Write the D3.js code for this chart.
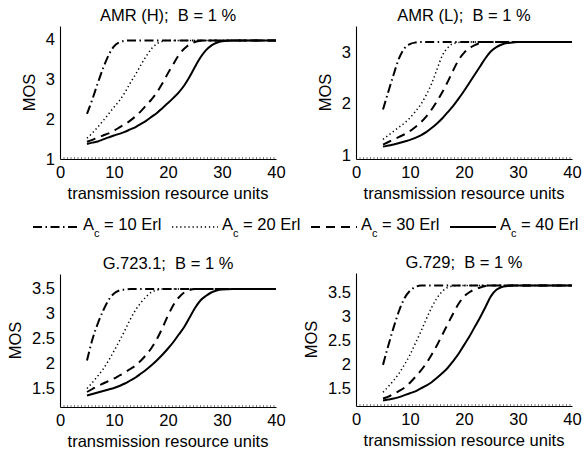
<!DOCTYPE html>
<html lang="en">
<head>
<meta charset="UTF-8">
<title>MOS vs transmission resource units</title>
<style>
  body { margin: 0; background: #fff; }
  text { font-family: "Liberation Sans", Arial, sans-serif; fill: #000; }
</style>
</head>
<body>
<svg width="584" height="452"></svg>
<script src="https://d3js.org/d3.v7.min.js"></script>
<script>
// resource units sampled along each curve
const xs = [5,6,7,8,9,10,11,12,13,14,15,16,17,18,19,20,21,22,23,24,25,26,27,28,29,30,32,40];
const erlangs = [10, 20, 30, 40];
const xTicks = [0, 10, 20, 30, 40];

// MOS per offered traffic (10, 20, 30, 40 Erl)
const amrH = [
  [2.13,2.50,2.90,3.28,3.60,3.82,3.92,3.96,3.97,3.97,3.97,3.97,3.97,3.97,3.97,3.97,3.97,3.97,3.97,3.97,3.97,3.97,3.97,3.97,3.97,3.97,3.97,3.97],
  [1.52,1.65,1.80,1.96,2.13,2.30,2.46,2.66,2.90,3.12,3.36,3.58,3.77,3.89,3.95,3.97,3.97,3.97,3.97,3.97,3.97,3.97,3.97,3.97,3.97,3.97,3.97,3.97],
  [1.43,1.48,1.54,1.59,1.64,1.71,1.79,1.87,1.96,2.07,2.20,2.35,2.50,2.68,2.90,3.15,3.38,3.60,3.76,3.87,3.93,3.96,3.97,3.97,3.97,3.97,3.97,3.97],
  [1.375,1.41,1.44,1.49,1.54,1.59,1.63,1.68,1.74,1.80,1.88,1.96,2.06,2.16,2.28,2.40,2.53,2.67,2.84,3.06,3.31,3.54,3.72,3.84,3.91,3.95,3.97,3.97]
];
const amrL = [
  [1.88,2.23,2.57,2.88,3.07,3.15,3.18,3.19,3.19,3.19,3.19,3.19,3.19,3.19,3.19,3.19,3.19,3.19,3.19,3.19,3.19,3.19,3.19,3.19,3.19,3.19,3.19,3.19],
  [1.30,1.38,1.46,1.54,1.62,1.72,1.84,1.98,2.16,2.38,2.66,2.93,3.08,3.16,3.18,3.19,3.19,3.19,3.19,3.19,3.19,3.19,3.19,3.19,3.19,3.19,3.19,3.19],
  [1.20,1.25,1.30,1.35,1.40,1.46,1.54,1.63,1.74,1.88,2.04,2.22,2.42,2.64,2.84,2.98,3.07,3.13,3.17,3.19,3.19,3.19,3.19,3.19,3.19,3.19,3.19,3.19],
  [1.16,1.18,1.20,1.23,1.26,1.29,1.33,1.38,1.44,1.52,1.61,1.71,1.83,1.95,2.09,2.24,2.40,2.56,2.72,2.88,3.01,3.09,3.14,3.17,3.18,3.19,3.19,3.19]
];
const g7231 = [
  [2.06,2.48,2.80,3.06,3.27,3.40,3.46,3.48,3.49,3.49,3.49,3.49,3.49,3.49,3.49,3.49,3.49,3.49,3.49,3.49,3.49,3.49,3.49,3.49,3.49,3.49,3.49,3.49],
  [1.50,1.62,1.75,1.89,2.06,2.25,2.45,2.66,2.88,3.07,3.22,3.34,3.43,3.47,3.49,3.49,3.49,3.49,3.49,3.49,3.49,3.49,3.49,3.49,3.49,3.49,3.49,3.49],
  [1.43,1.49,1.55,1.60,1.65,1.70,1.76,1.82,1.89,1.96,2.06,2.18,2.32,2.50,2.72,2.96,3.17,3.32,3.42,3.47,3.49,3.49,3.49,3.49,3.49,3.49,3.49,3.49],
  [1.36,1.39,1.42,1.45,1.48,1.51,1.55,1.60,1.66,1.72,1.80,1.88,1.97,2.07,2.18,2.30,2.43,2.58,2.73,2.92,3.11,3.26,3.35,3.42,3.46,3.48,3.49,3.49]
];
const g729 = [
  [1.99,2.40,2.78,3.12,3.38,3.53,3.61,3.64,3.64,3.64,3.64,3.64,3.64,3.64,3.64,3.64,3.64,3.64,3.64,3.64,3.64,3.64,3.64,3.64,3.64,3.64,3.64,3.64],
  [1.42,1.54,1.67,1.82,2.00,2.20,2.44,2.68,2.94,3.18,3.38,3.52,3.60,3.63,3.64,3.64,3.64,3.64,3.64,3.64,3.64,3.64,3.64,3.64,3.64,3.64,3.64,3.64],
  [1.29,1.33,1.39,1.45,1.52,1.62,1.74,1.87,2.02,2.20,2.40,2.62,2.84,3.06,3.26,3.41,3.50,3.56,3.60,3.63,3.64,3.64,3.64,3.64,3.64,3.64,3.64,3.64],
  [1.25,1.27,1.29,1.32,1.36,1.40,1.44,1.50,1.56,1.63,1.72,1.82,1.93,2.07,2.22,2.40,2.58,2.78,2.98,3.20,3.42,3.55,3.61,3.63,3.64,3.64,3.64,3.64]
];

const titles = ["AMR (H);  B = 1 %", "AMR (L);  B = 1 %", "G.723.1;  B = 1 %", "G.729;  B = 1 %"];
const yLimits = [[1, 4.33], [0.92, 3.5], [1.13, 3.79], [1.135, 3.9]];
const yTickSets = [[1,2,3,4], [1,2,3], [1.5,2,2.5,3,3.5], [1.5,2,2.5,3,3.5]];

// layout
const boxes = [
  {left: 60,  top: 26,  width: 216, height: 133},
  {left: 356, top: 26,  width: 216, height: 133},
  {left: 60,  top: 274, width: 216, height: 133},
  {left: 356, top: 273, width: 216, height: 133}
];
const styles = [
  {dash: "9,3.5,1.5,3.5", width: 2},
  {dash: "1.3,2.8", width: 1.5},
  {dash: "9,6", width: 2},
  {dash: null, width: 2}
];
const fontSize = 16.5;

const svg = d3.select("svg");

[amrH, amrL, g7231, g729].forEach((series, i) => {
  const b = boxes[i];
  const g = svg.append("g").attr("transform", `translate(${b.left},${b.top})`);

  const x = d3.scaleLinear().domain([0, 40]).range([0, b.width]);
  const y = d3.scaleLinear().domain(yLimits[i]).range([b.height, 0]);

  const line = d3.line()
    .x(d => x(d[0]))
    .y(d => y(d[1]))
    .curve(d3.curveMonotoneX);

  series.forEach((vals, k) => {
    g.append("path")
      .datum(xs.map((v, j) => [v, vals[j]]))
      .attr("fill", "none")
      .attr("stroke", "#000")
      .attr("stroke-width", styles[k].width)
      .attr("stroke-dasharray", styles[k].dash)
      .attr("d", line);
  });

  const yAxis = g.append("g")
    .call(d3.axisLeft(y).tickValues(yTickSets[i]).tickFormat(d => String(d)).tickSize(0).tickPadding(5));
  const xAxis = g.append("g")
    .attr("transform", `translate(0,${b.height})`)
    .call(d3.axisBottom(x).tickValues(xTicks).tickFormat(d => String(d)).tickSize(0).tickPadding(7.5));

  [yAxis, xAxis].forEach(a => {
    a.attr("font-size", fontSize).attr("font-family", null);
    a.select(".domain").attr("stroke", "#000").attr("stroke-width", 1.1);
  });

  // dotted ticks along the bottom axis
  g.append("line")
    .attr("x1", 0).attr("x2", b.width)
    .attr("y1", b.height - 1).attr("y2", b.height - 1)
    .attr("stroke", "#000")
    .attr("stroke-width", 1)
    .attr("stroke-dasharray", "1,2.5");

  g.append("text")
    .attr("x", b.width / 2)
    .attr("y", -5)
    .attr("text-anchor", "middle")
    .attr("font-size", fontSize)
    .style("white-space", "pre")
    .text(titles[i]);

  g.append("text")
    .attr("x", b.width / 2)
    .attr("y", b.height + 40)
    .attr("text-anchor", "middle")
    .attr("font-size", fontSize)
    .text("transmission resource units");

  let tw = 0;
  yAxis.selectAll(".tick text").each(function() { tw = Math.max(tw, this.getComputedTextLength()); });
  g.append("text")
    .attr("transform", `translate(${-5 - tw - 11},${b.height / 2}) rotate(-90)`)
    .attr("text-anchor", "middle")
    .attr("font-size", fontSize)
    .text("MOS");
});

// legend
const legendX = [83, 222, 361, 500];
const legendY = 227;
erlangs.forEach((e, k) => {
  const lx = legendX[k];
  svg.append("line")
    .attr("x1", lx - 50).attr("x2", lx - 4)
    .attr("y1", legendY).attr("y2", legendY)
    .attr("stroke", "#000")
    .attr("stroke-width", styles[k].width)
    .attr("stroke-dasharray", styles[k].dash);

  const t = svg.append("text")
    .attr("x", lx)
    .attr("y", legendY + 3)
    .attr("font-size", fontSize)
    .style("white-space", "pre");
  t.append("tspan").text("A");
  t.append("tspan").attr("font-size", 11).attr("dy", 7).text("c");
  t.append("tspan").attr("dy", -7).text(` = ${e} Erl`);
});
</script>
</body>
</html>
